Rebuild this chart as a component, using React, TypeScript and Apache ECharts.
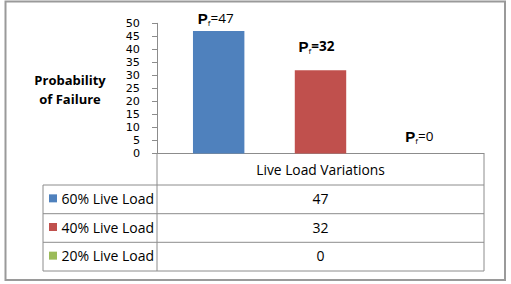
import React, { useEffect, useRef } from "react";
import * as echarts from "echarts";

const categories = ["Live Load Variations"];
const seriesNames = ["60% Live Load", "40% Live Load", "20% Live Load"];
const seriesValues = [47, 32, 0];
const seriesColors = ["#4F81BD", "#C0504D", "#9BBB59"];
const yTicks = { min: 0, max: 50, interval: 5 };
const yAxisTitle = ["Probability", "of Failure"];
const labelBoldValue = [false, true, false];

const FONT = "'Open Sans', 'Liberation Sans', sans-serif";

export default function App() {
  const ref = useRef<HTMLDivElement>(null);
  useEffect(() => {
    if (!ref.current) return;
    const chart = echarts.init(ref.current, null, { renderer: "svg" });

    const gridLeft = 157;
    const gridRight = 484;
    const axisY = 153.5;
    const rowLines = [185, 213.7, 242.3, 271];
    const tableLeft = 43;
    const lineColor = "#8c8c8c";

    const labelDist = [5, 16, 9.5];
    const labelOffX = [-3, -4, -3];

    const series = seriesNames.map((name, i) => ({
      name,
      type: "bar",
      data: [seriesValues[i]],
      barGap: "98%",
      barCategoryGap: "22%",
      itemStyle: { color: seriesColors[i] },
      label: {
        show: true,
        position: "top",
        distance: labelDist[i],
        offset: [labelOffX[i], 0],
        formatter: (p: any) => `{P|P}{f|f}{v|=${p.value}}`,
        rich: {
          P: {
            fontFamily: "'Liberation Sans', sans-serif",
            fontWeight: "bold",
            fontSize: 15,
            color: "#000",
            lineHeight: 16,
          },
          f: {
            fontFamily: FONT,
            fontSize: 8,
            color: "#000",
            verticalAlign: "bottom",
            lineHeight: 8,
            padding: [6, 0, 0, 0],
          },
          v: {
            fontFamily: FONT,
            fontWeight: labelBoldValue[i] ? "bold" : "normal",
            fontSize: 13.5,
            color: "#000",
            lineHeight: 16,
          },
        },
      },
    }));

    const graphic: any[] = [];
    // outer border
    graphic.push({
      type: "rect",
      shape: { x: 5.5, y: 1.5, width: 499.5, height: 278.5 },
      style: { fill: "none", stroke: "#9a9a9a", lineWidth: 2 },
      z: 0,
    });
    // y axis title
    graphic.push({
      type: "text",
      x: 70,
      y: 89,
      style: {
        text: yAxisTitle.join("\n"),
        fontFamily: FONT,
        fontWeight: "bold",
        fontSize: 13,
        lineHeight: 19,
        fill: "#000",
        align: "center",
        verticalAlign: "middle",
      },
    });
    // table lines
    const hLine = (y: number, x1: number, x2: number) => ({
      type: "line",
      shape: { x1, y1: y, x2, y2: y },
      style: { stroke: lineColor, lineWidth: 1 },
    });
    const vLine = (x: number, y1: number, y2: number) => ({
      type: "line",
      shape: { x1: x, y1, x2: x, y2 },
      style: { stroke: lineColor, lineWidth: 1 },
    });
    graphic.push(vLine(gridLeft, axisY, rowLines[rowLines.length - 1]));
    graphic.push(vLine(gridRight, axisY, rowLines[rowLines.length - 1]));
    graphic.push(vLine(tableLeft, rowLines[0], rowLines[rowLines.length - 1]));
    rowLines.forEach((y) => graphic.push(hLine(y, tableLeft, gridRight)));

    seriesNames.forEach((name, i) => {
      const top = rowLines[i];
      const bottom = rowLines[i + 1];
      const cy = (top + bottom) / 2;
      graphic.push({
        type: "rect",
        shape: { x: 49, y: cy - 5, width: 8, height: 8 },
        style: { fill: seriesColors[i] },
      });
      graphic.push({
        type: "text",
        x: 61.5,
        y: cy - 1,
        style: {
          text: name,
          fontFamily: FONT,
          fontSize: 14,
          fill: "#000",
          align: "left",
          verticalAlign: "middle",
        },
      });
      graphic.push({
        type: "text",
        x: (gridLeft + gridRight) / 2,
        y: cy - 1,
        style: {
          text: String(seriesValues[i]),
          fontFamily: FONT,
          fontSize: 14,
          fill: "#000",
          align: "center",
          verticalAlign: "middle",
        },
      });
    });

    chart.setOption({
      animation: false,
      backgroundColor: "#fff",
      grid: {
        left: gridLeft,
        right: 511 - gridRight,
        top: 23.3,
        bottom: 284 - axisY,
        containLabel: false,
      },
      xAxis: {
        type: "category",
        data: categories,
        axisLine: { show: true, lineStyle: { color: lineColor } },
        axisTick: { show: false },
        axisLabel: {
          margin: 9,
          fontFamily: FONT,
          fontSize: 13.8,
          color: "#000",
        },
      },
      yAxis: {
        type: "value",
        min: yTicks.min,
        max: yTicks.max,
        interval: yTicks.interval,
        axisLine: { show: true, lineStyle: { color: lineColor } },
        axisTick: { show: true, length: 5, lineStyle: { color: lineColor } },
        splitLine: { show: false },
        axisLabel: {
          margin: 17,
          fontFamily: "'DejaVu Sans', sans-serif",
          fontSize: 11.2,
          color: "#000",
          lineHeight: 12,
        },
      },
      series,
      graphic,
    });
    return () => chart.dispose();
  }, []);
  return (
    <div
      ref={ref}
      style={{ position: "fixed", left: 0, top: 0, width: 511, height: 284 }}
    />
  );
}
